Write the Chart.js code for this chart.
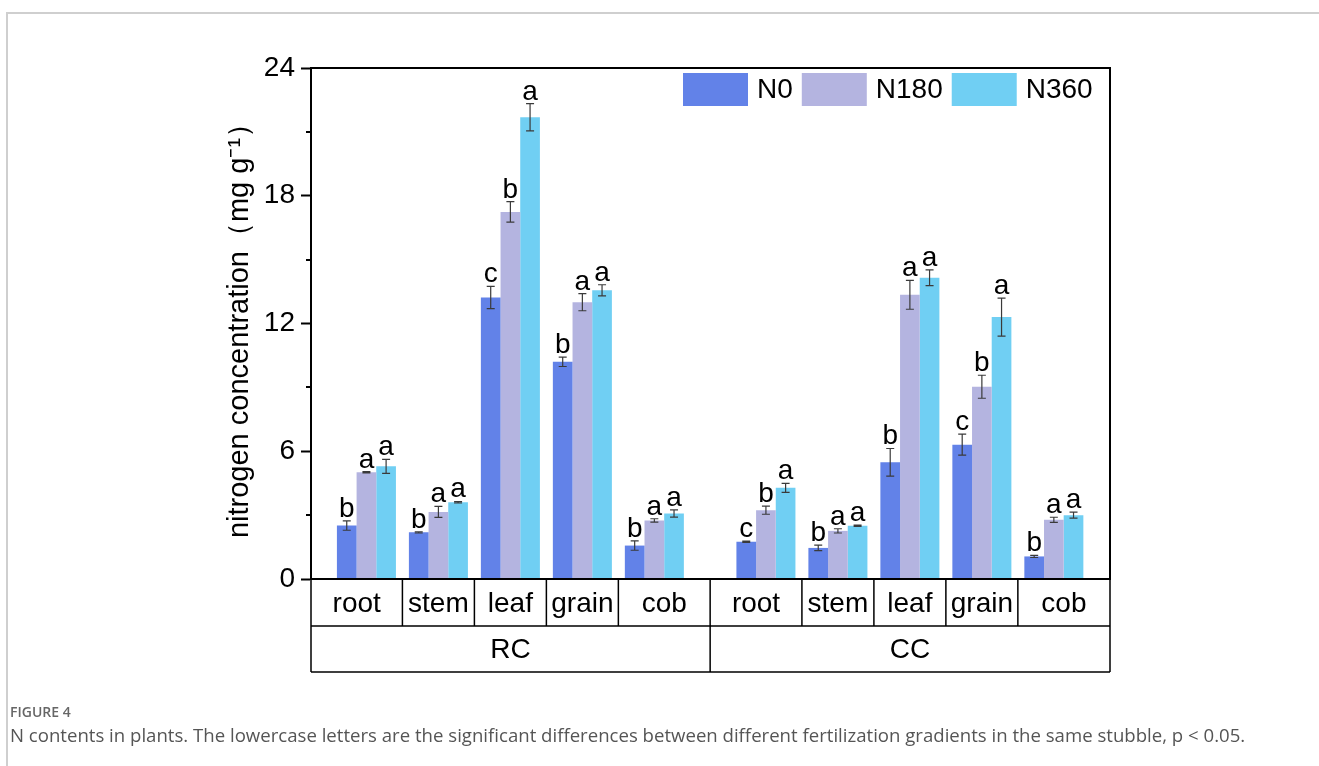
<!DOCTYPE html>
<html>
<head>
<meta charset="utf-8">
<script src="https://cdn.jsdelivr.net/npm/chart.js@4.4.1/dist/chart.umd.min.js"></script>
<style>
  html, body { margin: 0; padding: 0; background: #fff; }
  #wrap { position: relative; width: 1319px; height: 766px; overflow: hidden; }
  #card { position: absolute; left: 6px; top: 12px; width: 1400px; height: 800px;
          border-top: 2px solid #cfcfcf; border-left: 2px solid #cfcfcf; box-sizing: border-box; }
  canvas { position: absolute; left: 0; top: 0; }
  #figno { position: absolute; left: 10px; top: 702px; font: 600 14px "Open Sans", sans-serif;
           color: #666; }
  #caption { position: absolute; left: 10px; top: 722px; font: 18.6px "Open Sans", sans-serif;
             color: #555; white-space: nowrap; }
</style>
</head>
<body>
<div id="wrap">
  <div id="card"></div>
  <canvas id="c" width="1319" height="766"></canvas>
  <div id="figno">FIGURE 4</div>
  <div id="caption">N contents in plants. The lowercase letters are the significant differences between different fertilization gradients in the same stubble, p &lt; 0.05.</div>
</div>
<script>
// Plant organs, repeated for each stubble treatment
const parts = ['root', 'stem', 'leaf', 'grain', 'cob'];
const stubbles = ['RC', 'CC'];
// Position of each organ group on the x axis (RC block, then CC block)
const groupPos = [1, 2, 3, 4, 5, 6.55, 7.55, 8.55, 9.55, 10.55];

// Nitrogen concentration (mg g-1), RC root..cob then CC root..cob
const n0   = [2.51, 2.19, 13.22, 10.20, 1.57,  1.75, 1.46, 5.48, 6.31, 1.06];
const n180 = [5.01, 3.15, 17.24, 13.00, 2.75,  3.23, 2.26, 13.35, 9.03, 2.78];
const n360 = [5.29, 3.61, 21.69, 13.56, 3.08,  4.28, 2.50, 14.15, 12.30, 3.00];

// Standard errors
const n0Err   = [0.22, 0.03, 0.52, 0.22, 0.22,  0.03, 0.13, 0.65, 0.49, 0.05];
const n180Err = [0.03, 0.26, 0.48, 0.40, 0.08,  0.19, 0.10, 0.68, 0.54, 0.12];
const n360Err = [0.33, 0.03, 0.64, 0.26, 0.17,  0.21, 0.03, 0.37, 0.89, 0.14];

// Significance letters
const n0Sig   = ['b', 'b', 'c', 'b', 'b',  'c', 'b', 'b', 'c', 'b'];
const n180Sig = ['a', 'a', 'b', 'a', 'a',  'b', 'a', 'a', 'b', 'a'];
const n360Sig = ['a', 'a', 'a', 'a', 'a',  'a', 'a', 'a', 'a', 'a'];

const yTicks = [0, 6, 12, 18, 24];
const yMinor = [3, 9, 15, 21];

const FONT = '"Liberation Sans", Arial, sans-serif';

const pts = arr => arr.map((v, i) => ({ x: groupPos[i], y: v }));

const series = [
  { label: 'N0',   values: n0,   err: n0Err,   sig: n0Sig,   color: '#6282E8' },
  { label: 'N180', values: n180, err: n180Err, sig: n180Sig, color: '#B4B4E0' },
  { label: 'N360', values: n360, err: n360Err, sig: n360Sig, color: '#70CFF3' }
];

// Error bars and significance letters on top of each bar
const errorBars = {
  id: 'errorBars',
  afterDatasetsDraw(chart) {
    const ctx = chart.ctx;
    const y = chart.scales.y;
    ctx.save();
    series.forEach((s, di) => {
      const meta = chart.getDatasetMeta(di);
      meta.data.forEach((bar, i) => {
        const v = s.values[i], e = s.err[i];
        const top = y.getPixelForValue(v + e);
        const bot = y.getPixelForValue(v - e);
        ctx.strokeStyle = '#3a3a3a';
        ctx.lineWidth = 1.2;
        ctx.beginPath();
        ctx.moveTo(bar.x, top); ctx.lineTo(bar.x, bot);
        ctx.moveTo(bar.x - 4, top); ctx.lineTo(bar.x + 4, top);
        ctx.moveTo(bar.x - 4, bot); ctx.lineTo(bar.x + 4, bot);
        ctx.stroke();
        ctx.fillStyle = '#000';
        ctx.font = '28px ' + FONT;
        ctx.textAlign = 'center';
        ctx.textBaseline = 'alphabetic';
        ctx.fillText(s.sig[i], bar.x, top - 4);
      });
    });
    ctx.restore();
  }
};

// Plot frame, minor ticks, two-row category table and legend
const frameAndTable = {
  id: 'frameAndTable',
  afterDraw(chart) {
    const ctx = chart.ctx;
    const a = chart.chartArea;
    const x = chart.scales.x, y = chart.scales.y;
    ctx.save();
    ctx.strokeStyle = '#000';
    ctx.lineWidth = 2;
    ctx.strokeRect(a.left, a.top, a.right - a.left, a.bottom - a.top);

    // minor ticks
    ctx.beginPath();
    yMinor.forEach(v => {
      const py = Math.round(y.getPixelForValue(v));
      ctx.moveTo(a.left - 5, py); ctx.lineTo(a.left, py);
    });
    ctx.stroke();

    // category table below the axis
    const row1 = a.bottom + 47, row2 = a.bottom + 93;
    ctx.lineWidth = 1.5;
    ctx.beginPath();
    ctx.moveTo(a.left, row1); ctx.lineTo(a.right, row1);
    ctx.moveTo(a.left, row2); ctx.lineTo(a.right, row2);
    ctx.moveTo(a.left, a.bottom); ctx.lineTo(a.left, row2);
    ctx.moveTo(a.right, a.bottom); ctx.lineTo(a.right, row2);
    const edges = [a.left];
    for (let i = 0; i < groupPos.length - 1; i++) {
      edges.push(x.getPixelForValue((groupPos[i] + groupPos[i + 1]) / 2));
    }
    edges.push(a.right);
    for (let i = 1; i < edges.length - 1; i++) {
      const full = (i === parts.length);
      ctx.moveTo(edges[i], a.bottom);
      ctx.lineTo(edges[i], full ? row2 : row1);
    }
    ctx.stroke();

    ctx.fillStyle = '#000';
    ctx.textAlign = 'center';
    ctx.textBaseline = 'middle';
    ctx.font = '28px ' + FONT;
    for (let i = 0; i < groupPos.length; i++) {
      ctx.fillText(parts[i % parts.length], (edges[i] + edges[i + 1]) / 2, a.bottom + 25);
    }
    stubbles.forEach((g, k) => {
      const l = edges[k * parts.length], r = edges[(k + 1) * parts.length];
      ctx.fillText(g, (l + r) / 2, row1 + 24);
    });

    // legend inside the plot, top right
    ctx.font = '28px ' + FONT;
    ctx.textAlign = 'left';
    ctx.textBaseline = 'middle';
    let lx = a.left + 372;
    const ly = a.top + 5;
    chart.data.datasets.forEach(ds => {
      ctx.fillStyle = ds.backgroundColor;
      ctx.fillRect(lx, ly, 65, 33);
      ctx.fillStyle = '#000';
      ctx.fillText(ds.label, lx + 74, ly + 17);
      lx += 74 + ctx.measureText(ds.label).width + 9;
    });
    ctx.restore();
  }
};

new Chart(document.getElementById('c'), {
  type: 'bar',
  data: {
    datasets: series.map(s => ({
      label: s.label,
      data: pts(s.values),
      backgroundColor: s.color,
      borderWidth: 0,
      categoryPercentage: 0.82,
      barPercentage: 1.0
    }))
  },
  options: {
    responsive: false,
    animation: false,
    devicePixelRatio: 1,
    layout: { padding: { left: 0, top: 68, right: 209, bottom: 187 } },
    plugins: { legend: { display: false }, tooltip: { enabled: false } },
    scales: {
      x: {
        type: 'linear',
        display: false,
        offset: false,
        min: 0.23,
        max: 11.33,
        afterBuildTicks: s => { s.ticks = groupPos.map(v => ({ value: v })); }
      },
      y: {
        min: 0,
        max: 24,
        afterBuildTicks: s => { s.ticks = yTicks.map(v => ({ value: v })); },
        afterFit: s => { s.width = 311; },
        grid: { drawOnChartArea: false, drawTicks: true, tickLength: 10, tickWidth: 2, tickColor: '#000' },
        border: { display: true, width: 2, color: '#000' },
        ticks: { color: '#000', padding: 6, font: { family: FONT, size: 28 } },
        title: {
          display: true,
          text: 'nitrogen concentration（mg g⁻¹）',
          color: '#000',
          font: { family: FONT, size: 29 },
          padding: { top: 223, bottom: 0 }
        }
      }
    }
  },
  plugins: [errorBars, frameAndTable]
});
</script>
</body>
</html>
